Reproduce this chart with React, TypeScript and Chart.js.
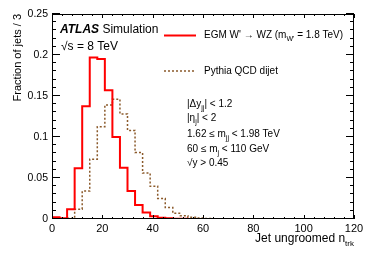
import React, { useEffect, useRef } from "react";
import { Chart, registerables } from "chart.js";

Chart.register(...registerables);

// Bin edges (width 3) of the jet ungroomed n_trk histogram
const binEdges = [
  0, 3, 6, 9, 12, 15, 18, 21, 24, 27, 30, 33, 36, 39, 42, 45, 48, 51, 54, 57,
  60, 63, 66, 69, 72, 75, 78, 81, 84, 87, 90, 93, 96, 99, 102, 105, 108, 111, 114, 117, 120,
];

// EGM W' -> WZ (m_W' = 1.8 TeV), fraction of jets per bin
const signalValues = [
  0.002, 0.001, 0.012, 0.062, 0.1375, 0.197, 0.195, 0.157, 0.1, 0.0625,
  0.034, 0.017, 0.008, 0.0035, 0.0015, 0.0008, 0.0004, 0.0002, 0.0001, 0,
  0, 0, 0, 0, 0, 0, 0, 0, 0, 0,
  0, 0, 0, 0, 0, 0, 0, 0, 0, 0,
];

// Pythia QCD dijet, fraction of jets per bin
const qcdValues = [
  0, 0, 0.001, 0.012, 0.034, 0.073, 0.1125, 0.139, 0.146, 0.128,
  0.108, 0.081, 0.056, 0.04, 0.025, 0.014, 0.007, 0.004, 0.002, 0.0012,
  0.0006, 0.0003, 0.0002, 0.0001, 0, 0, 0, 0, 0, 0,
  0, 0, 0, 0, 0, 0, 0, 0, 0, 0,
];

const xTickValues = [0, 20, 40, 60, 80, 100, 120];
const yTickLabels = ["0", "0.05", "0.1", "0.15", "0.2", "0.25"];

const FF = "'Liberation Sans', Arial, Helvetica, sans-serif";

type Part = [string, string];

function richWidth(ctx: CanvasRenderingContext2D, parts: Part[], size: number) {
  let w = 0;
  for (const [t, k] of parts) {
    ctx.font = fontFor(k, size);
    w += ctx.measureText(t).width;
  }
  return w;
}

function fontFor(k: string, size: number) {
  if (k === "s") return `${Math.round(size * 0.7)}px ${FF}`;
  if (k === "b") return `italic bold ${size}px ${FF}`;
  return `${size}px ${FF}`;
}

function drawRich(
  ctx: CanvasRenderingContext2D,
  x: number,
  y: number,
  parts: Part[],
  size: number,
  align: "left" | "right" = "left"
) {
  let cx = align === "right" ? x - richWidth(ctx, parts, size) : x;
  ctx.textAlign = "left";
  ctx.textBaseline = "alphabetic";
  for (const [t, k] of parts) {
    ctx.font = fontFor(k, size);
    const dy = k === "s" ? size * 0.3 : 0;
    ctx.fillText(t, cx, y + dy);
    cx += ctx.measureText(t).width;
  }
}

function toSteps(values: number[]) {
  const pts = values.map((v, i) => ({ x: binEdges[i], y: v }));
  pts.push({ x: binEdges[binEdges.length - 1], y: values[values.length - 1] });
  return pts;
}

const decorPlugin = {
  id: "atlasDecor",
  afterDraw(chart: any) {
    const ctx: CanvasRenderingContext2D = chart.ctx;
    const { left, top, right, bottom } = chart.chartArea;
    const xs = chart.scales.x;
    const ys = chart.scales.y;
    ctx.save();
    ctx.strokeStyle = "#000";
    ctx.fillStyle = "#000";
    ctx.lineWidth = 1;
    // frame
    ctx.strokeRect(left + 0.5, top + 0.5, right - left - 1, bottom - top - 1);
    // x ticks (bottom and top)
    ctx.beginPath();
    for (let i = 0; i <= 30; i++) {
      const px = Math.round(xs.getPixelForValue(i * 4)) + 0.5;
      const len = i % 5 === 0 ? 4 : 2;
      ctx.moveTo(px, bottom);
      ctx.lineTo(px, bottom - len);
      ctx.moveTo(px, top);
      ctx.lineTo(px, top + len);
    }
    // y ticks (left and right)
    for (let i = 0; i <= 25; i++) {
      const py = Math.round(ys.getPixelForValue(i * 0.01)) - 0.5;
      const len = i % 5 === 0 ? 8 : 4;
      ctx.moveTo(left, py);
      ctx.lineTo(left + len, py);
      ctx.moveTo(right, py);
      ctx.lineTo(right - len, py);
    }
    ctx.stroke();

    // ATLAS label
    drawRich(ctx, 60, 33, [["ATLAS", "b"], [" Simulation", "n"]], 12);
    drawRich(ctx, 61, 50, [["√s = 8 TeV", "n"]], 12);

    // Legend
    ctx.strokeStyle = "#ff0000";
    ctx.lineWidth = 2;
    ctx.beginPath();
    ctx.moveTo(164, 35.5);
    ctx.lineTo(196, 35.5);
    ctx.stroke();
    ctx.strokeStyle = "#8b5a2b";
    ctx.lineWidth = 1.5;
    ctx.setLineDash([2, 2]);
    ctx.beginPath();
    ctx.moveTo(164, 71);
    ctx.lineTo(196, 71);
    ctx.stroke();
    ctx.setLineDash([]);
    ctx.fillStyle = "#000";
    drawRich(ctx, 204, 38, [["EGM W' → WZ (m", "n"], ["W'", "s"], [" = 1.8 TeV)", "n"]], 10);
    drawRich(ctx, 204, 74, [["Pythia QCD dijet", "n"]], 10);

    // Selection cuts
    drawRich(ctx, 187, 107, [["|Δy", "n"], ["jj", "s"], ["| < 1.2", "n"]], 10);
    drawRich(ctx, 187, 121, [["|η", "n"], ["j", "s"], ["| < 2", "n"]], 10);
    drawRich(ctx, 187, 136.5, [["1.62 ≤ m", "n"], ["jj", "s"], [" < 1.98 TeV", "n"]], 10);
    drawRich(ctx, 187, 152, [["60 ≤ m", "n"], ["j", "s"], [" < 110 GeV", "n"]], 10);
    drawRich(ctx, 187, 166, [["√y > 0.45", "n"]], 10);

    // Axis titles
    drawRich(ctx, 354, 242, [["Jet ungroomed n", "n"], ["trk", "s"]], 12, "right");
    ctx.save();
    ctx.translate(21, 14);
    ctx.rotate(-Math.PI / 2);
    ctx.font = `11px ${FF}`;
    ctx.textAlign = "right";
    ctx.textBaseline = "alphabetic";
    ctx.fillText("Fraction of jets / 3", 0, 0);
    ctx.restore();

    ctx.restore();
  },
};

export default function App() {
  const ref = useRef<HTMLCanvasElement | null>(null);
  useEffect(() => {
    if (!ref.current) return;
    const chart = new Chart(ref.current, {
      type: "line",
      data: {
        datasets: [
          {
            label: "EGM W' → WZ (m_W' = 1.8 TeV)",
            data: toSteps(signalValues),
            borderColor: "#ff0000",
            borderWidth: 2,
            pointRadius: 0,
            stepped: true,
            fill: false,
          },
          {
            label: "Pythia QCD dijet",
            data: toSteps(qcdValues),
            borderColor: "#8b5a2b",
            borderWidth: 1.5,
            borderDash: [2, 2],
            pointRadius: 0,
            stepped: true,
            fill: false,
          },
        ],
      },
      options: {
        animation: false,
        responsive: false,
        devicePixelRatio: 1,
        layout: { padding: { top: 14, right: 20, left: 0, bottom: 0 } },
        plugins: { legend: { display: false }, tooltip: { enabled: false } },
        scales: {
          x: {
            type: "linear",
            min: 0,
            max: 120,
            grid: { display: false, drawTicks: false },
            border: { display: false },
            afterFit: (s: any) => {
              s.height = 34;
            },
            afterBuildTicks: (s: any) => {
              s.ticks = xTickValues.map((v) => ({ value: v }));
            },
            ticks: {
              padding: 3,
              color: "#000",
              font: { family: FF, size: 11 },
              maxRotation: 0,
              autoSkip: false,
              callback: (v: any) => String(v),
            },
          },
          y: {
            type: "linear",
            min: 0,
            max: 0.25,
            grid: { display: false, drawTicks: false },
            border: { display: false },
            afterFit: (s: any) => {
              s.width = 52;
            },
            afterBuildTicks: (s: any) => {
              s.ticks = yTickLabels.map((t) => ({ value: parseFloat(t) }));
            },
            ticks: {
              padding: 4,
              color: "#000",
              font: { family: FF, size: 10.5 },
              autoSkip: false,
              callback: (v: any) => yTickLabels.find((t) => Math.abs(parseFloat(t) - v) < 1e-9) ?? "",
            },
          },
        },
      },
      plugins: [decorPlugin],
    });
    return () => chart.destroy();
  }, []);
  return (
    <div style={{ position: "fixed", left: 0, top: 0, width: 374, height: 253, background: "#fff" }}>
      <canvas ref={ref} width={374} height={253} style={{ display: "block" }} />
    </div>
  );
}
